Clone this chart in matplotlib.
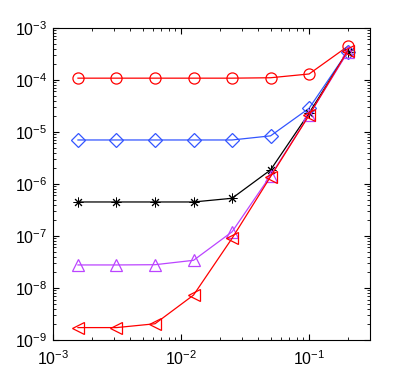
import matplotlib
matplotlib.use('Agg')
import matplotlib.pyplot as plt
import numpy as np

plt.rcParams['font.family'] = ['Liberation Sans', 'DejaVu Sans']

# step sizes
h = [1.5625e-3, 3.125e-3, 6.25e-3, 1.25e-2, 2.5e-2, 5e-2, 1e-1, 2e-1]

# errors for each scheme
err_circ = [1.08e-4, 1.08e-4, 1.08e-4, 1.08e-4, 1.08e-4, 1.1e-4, 1.3e-4, 4.4e-4]
err_diam = [7.0e-6, 7.0e-6, 7.0e-6, 7.0e-6, 7.0e-6, 8.4e-6, 2.85e-5, 3.5e-4]
err_star = [4.5e-7, 4.5e-7, 4.5e-7, 4.5e-7, 5.3e-7, 1.86e-6, 2.3e-5, 3.5e-4]
err_triu = [2.77e-8, 2.77e-8, 2.8e-8, 3.4e-8, 1.2e-7, 1.45e-6, 2.1e-5, 3.4e-4]
err_tril = [1.73e-9, 1.73e-9, 2.05e-9, 7.3e-9, 9.0e-8, 1.38e-6, 2.1e-5, 3.6e-4]

fig = plt.figure(figsize=(4.09, 3.82), dpi=100)
ax = fig.add_axes([0.130, 0.110, 0.775, 0.817])

kw = dict(lw=0.9, ms=8, mfc='none', mew=0.9)
ax.loglog(h, err_circ, color='#ff0000', marker='o', **kw)
ax.loglog(h, err_diam, color='#3355ff', marker='D', **dict(kw, ms=7))
ax.loglog(h, err_star, color='black', marker=(8, 2, 0), **dict(kw, ms=7, mew=0.7))
ax.loglog(h, err_triu, color='#bb44ff', marker='^', **dict(kw, ms=9))
ax.loglog(h, err_tril, color='#ff0000', marker='<', **dict(kw, ms=9))

ax.set_xlim(1e-3, 0.3)
ax.set_ylim(1e-9, 1e-3)
ax.set_xticks([1e-3, 1e-2, 1e-1])
ax.set_yticks([1e-9, 1e-8, 1e-7, 1e-6, 1e-5, 1e-4, 1e-3])
ax.tick_params(which='both', direction='in', top=True, right=True, labelsize=11.5)
ax.tick_params(axis='x', pad=7)
ax.tick_params(axis='y', pad=4)
ax.tick_params(which='major', length=4)
ax.tick_params(which='minor', length=2)
for s in ax.spines.values():
    s.set_linewidth(0.8)

fig.savefig('out.png', dpi=100)
